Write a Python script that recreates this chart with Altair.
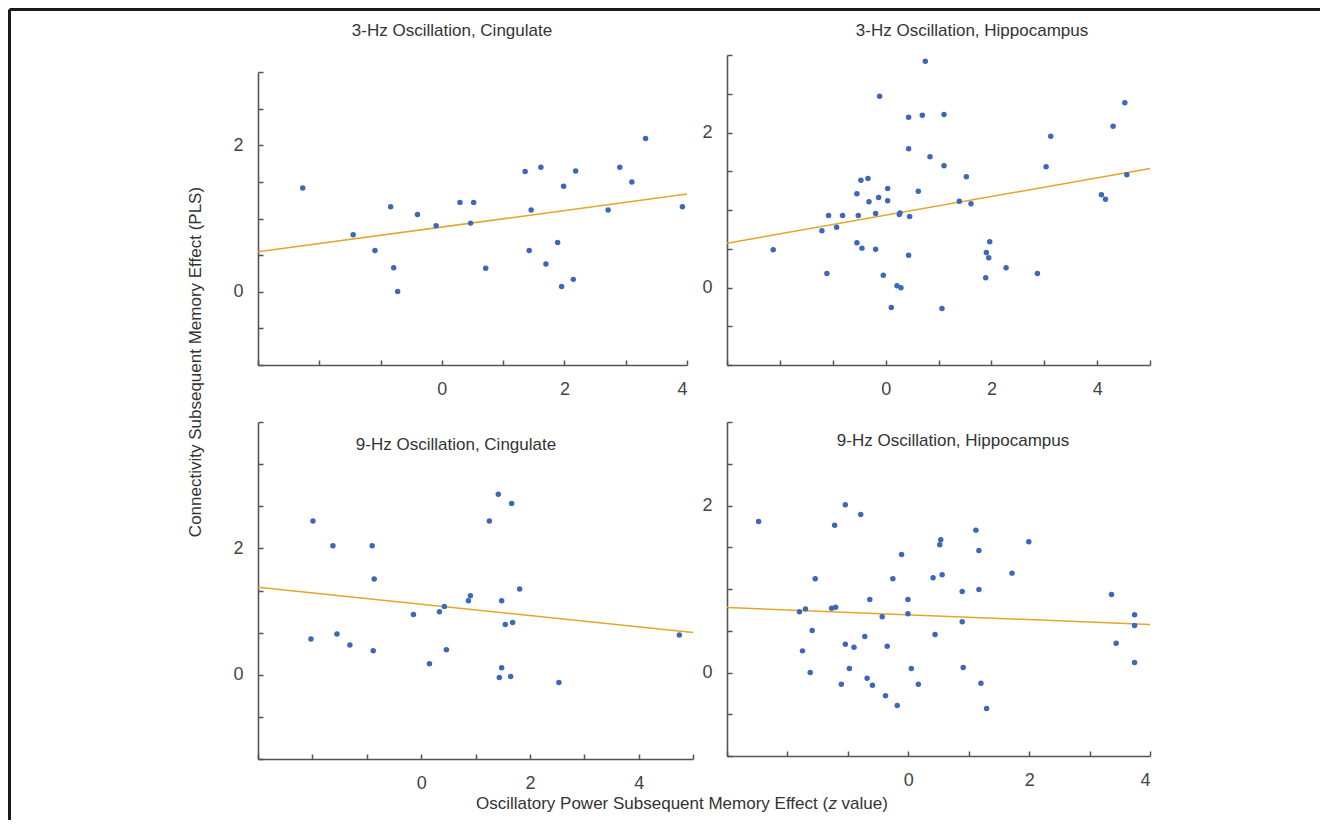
import altair as alt
import pandas as pd

# ---------------- data ----------------
titles = ["3-Hz Oscillation, Cingulate", "3-Hz Oscillation, Hippocampus",
          "9-Hz Oscillation, Cingulate", "9-Hz Oscillation, Hippocampus"]
x_title_main = "Oscillatory Power Subsequent Memory Effect ("
x_title_italic = "z"
x_title_end = "value)"
y_title = "Connectivity Subsequent Memory Effect (PLS)"

# 3-Hz, Cingulate
c3_x = [-2.27, -1.447, -1.092, -0.835, -0.786, -0.721, -0.398, -0.093, 0.295, 0.519,
        0.469, 0.715, 1.359, 1.457, 1.425, 1.616, 1.698, 1.889, 1.954, 1.987,
        2.145, 2.183, 2.713, 2.904, 3.100, 3.324, 3.925]
c3_y = [1.417, 0.777, 0.562, 1.161, 0.329, 0.005, 1.056, 0.900, 1.220, 1.220,
        0.937, 0.320, 1.641, 1.115, 0.562, 1.700, 0.379, 0.672, 0.073, 1.440,
        0.169, 1.650, 1.115, 1.700, 1.499, 2.093, 1.161]
c3_fit_x = [-3, 4]
c3_fit_y = [0.545, 1.334]

# 3-Hz, Hippocampus
h3_x = [-2.126, -1.205, -1.110, -1.079, -0.927, -0.814, -0.543, -0.543, -0.517, -0.467,
        -0.448, -0.334, -0.315, -0.189, -0.189, -0.132, -0.114, -0.044, 0.038, 0.038,
        0.107, 0.215, 0.271, 0.290, 0.259, 0.435, 0.435, 0.454, 0.435, 0.618,
        0.694, 0.751, 0.839, 1.066, 1.104, 1.104, 1.394, 1.527, 1.615, 1.893,
        1.905, 1.950, 1.968, 2.278, 2.871, 3.035, 3.123, 4.082, 4.158, 4.303,
        4.524, 4.562]
h3_y = [0.486, 0.731, 0.181, 0.929, 0.778, 0.929, 1.209, 0.576, 0.929, 1.385,
        0.508, 1.406, 1.105, 0.955, 0.495, 1.161, 2.469, 0.159, 1.277, 1.118,
        -0.258, 0.022, 0.963, -0.004, 0.942, 2.198, 1.789, 0.916, 0.417, 1.243,
        2.224, 2.920, 1.686, -0.271, 2.232, 1.570, 1.114, 1.428, 1.080, 0.125,
        0.452, 0.383, 0.589, 0.254, 0.181, 1.557, 1.953, 1.196, 1.140, 2.082,
        2.383, 1.454]
h3_fit_x = [-3, 5]
h3_fit_y = [0.572, 1.535]

# 9-Hz, Cingulate
c9_x = [-1.989, -1.622, -0.900, -0.863, -2.026, -1.548, -1.310, -0.881, -0.141, 0.153,
        0.337, 0.428, 0.465, 0.869, 0.906, 1.255, 1.420, 1.438, 1.481, 1.481,
        1.548, 1.646, 1.665, 1.683, 1.812, 2.534, 4.749]
c9_y = [2.433, 2.042, 2.042, 1.515, 0.565, 0.644, 0.470, 0.380, 0.955, 0.174,
        0.997, 1.082, 0.396, 1.172, 1.251, 2.433, 2.855, -0.042, 1.172, 0.111,
        0.797, -0.026, 2.712, 0.828, 1.356, -0.121, 0.628]
c9_fit_x = [-3, 5]
c9_fit_y = [1.383, 0.670]

# 9-Hz, Hippocampus
h9_x = [-2.476, -1.801, -1.751, -1.701, -1.623, -1.590, -1.540, -1.269, -1.219, -1.202,
        -1.108, -1.042, -1.042, -0.975, -0.898, -0.787, -0.720, -0.681, -0.637, -0.593,
        -0.432, -0.377, -0.349, -0.255, -0.183, -0.111, -0.006, -0.006, 0.050, 0.166,
        0.410, 0.443, 0.521, 0.537, 0.560, 0.892, 0.892, 0.909, 1.119, 1.169,
        1.169, 1.202, 1.296, 1.717, 1.994, 3.363, 3.440, 3.745, 3.745, 3.745]
h9_y = [1.808, 0.727, 0.259, 0.762, 0.000, 0.503, 1.122, 0.770, 1.764, 0.782,
        -0.140, 2.008, 0.339, 0.048, 0.303, 1.892, 0.431, -0.068, 0.874, -0.152,
        0.667, -0.279, 0.315, 1.122, -0.395, 1.413, 0.874, 0.703, 0.048, -0.140,
        1.134, 0.455, 1.529, 1.589, 1.170, 0.970, 0.607, 0.060, 1.705, 1.461,
        0.994, -0.128, -0.431, 1.190, 1.565, 0.934, 0.351, 0.691, 0.563, 0.120]
h9_fit_x = [-3, 4]
h9_fit_y = [0.778, 0.575]

# axis domains, ticks and labels
xdom_c3, xdom_h3, xdom_c9, xdom_h9 = [-3, 4], [-3, 5], [-3, 5], [-3, 4]
ydom_std = [-1, 3]
ydom_c9 = [-4 / 3, 4]
xticks_c3 = [-3, -2, -1, 0, 1, 2, 3, 4]
xticks_h3 = [-3, -2, -1, 0, 1, 2, 3, 4, 5]
xticks_c9 = [-3, -2, -1, 0, 1, 2, 3, 4, 5]
xticks_h9 = [-3, -2, -1, 0, 1, 2, 3, 4]
yticks_std = [-1, -0.5, 0, 0.5, 1, 1.5, 2, 2.5, 3]
yticks_c9 = [-4 / 3, -2 / 3, 0, 2 / 3, 4 / 3, 2, 8 / 3, 10 / 3, 4]
xlabels = [0, 2, 4]
ylabels = [0, 2]

BLUE = "#3b68b9"
GOLD = "#e2a62d"
FONT = "Liberation Sans"
TXT = "#333333"


def panel(xs, ys, fx, fy, xdom, ydom, xt, yt, W, H, title, tx, ty, yrange=None, extra=()):
    df = pd.DataFrame({"x": xs, "y": ys})
    fdf = pd.DataFrame({"x": fx, "y": fy})
    xsc = alt.Scale(domain=xdom, nice=False, zero=False)
    if yrange is None:
        ysc = alt.Scale(domain=ydom, nice=False, zero=False)
    else:
        ysc = alt.Scale(domain=ydom, nice=False, zero=False, range=yrange)
    fit = alt.Chart(fdf).mark_line(color=GOLD, strokeWidth=1.5).encode(
        x=alt.X("x:Q", scale=xsc, title=None,
                axis=alt.Axis(orient="top", offset=-H, values=xt, labels=False,
                              domain=False, ticks=True, tickSize=5)),
        y=alt.Y("y:Q", scale=ysc, title=None,
                axis=alt.Axis(orient="right", offset=-W, values=yt, labels=False,
                              domain=False, ticks=True, tickSize=5)),
    )
    pts = alt.Chart(df).mark_circle(size=30, color=BLUE, opacity=1).encode(
        x=alt.X("x:Q", scale=xsc, title=None,
                axis=alt.Axis(orient="bottom", values=xlabels, ticks=False, tickSize=0,
                              labelPadding=15, domain=True)),
        y=alt.Y("y:Q", scale=ysc, title=None,
                axis=alt.Axis(orient="left", values=ylabels, ticks=False, tickSize=0,
                              labelPadding=15, domain=True)),
    )
    ttl = alt.Chart(alt.Data(values=[{"t": title}])).mark_text(
        font=FONT, fontSize=17, color=TXT, align="center", baseline="middle"
    ).encode(text="t:N", x=alt.value(tx), y=alt.value(ty))
    layers = [fit, pts, ttl] + list(extra)
    return alt.layer(*layers).resolve_axis(x="independent", y="independent").properties(
        width=W, height=H)


# frame and shared axis titles (annotations)
frame_top = alt.Chart(alt.Data(values=[{"a": 1}])).mark_rule(
    color="#1a1a1a", strokeWidth=3).encode(
    x=alt.value(-248.5), x2=alt.value(1062), y=alt.value(-45.5))
frame_left = alt.Chart(alt.Data(values=[{"a": 1}])).mark_rule(
    color="#1a1a1a", strokeWidth=3).encode(
    x=alt.value(-248.5), y=alt.value(-45.5), y2=alt.value(765))
ytitle = alt.Chart(alt.Data(values=[{"t": y_title}])).mark_text(
    font=FONT, fontSize=17, color=TXT, angle=270, align="center", baseline="middle"
).encode(text="t:N", x=alt.value(-62), y=alt.value(307))

xt_a = alt.Chart(alt.Data(values=[{"t": x_title_main}])).mark_text(
    font=FONT, fontSize=17, color=TXT, align="left", baseline="middle"
).encode(text="t:N", x=alt.value(218), y=alt.value(382))
xt_b = alt.Chart(alt.Data(values=[{"t": x_title_italic}])).mark_text(
    font=FONT, fontSize=17, color=TXT, align="left", baseline="middle", fontStyle="italic"
).encode(text="t:N", x=alt.value(218 + 352.4), y=alt.value(382))
xt_c = alt.Chart(alt.Data(values=[{"t": x_title_end}])).mark_text(
    font=FONT, fontSize=17, color=TXT, align="left", baseline="middle"
).encode(text="t:N", x=alt.value(218 + 365.6), y=alt.value(382))

p1 = panel(c3_x, c3_y, c3_fit_x, c3_fit_y, xdom_c3, ydom_std, xticks_c3, yticks_std,
           429, 310, titles[0], 194, -24, yrange=[310, 17],
           extra=[frame_top, frame_left, ytitle])
p2 = panel(h3_x, h3_y, h3_fit_x, h3_fit_y, xdom_h3, ydom_std, xticks_h3, yticks_std,
           423, 310, titles[1], 245, -24)
p3 = panel(c9_x, c9_y, c9_fit_x, c9_fit_y, xdom_c9, ydom_c9, xticks_c9, yticks_c9,
           435, 337, titles[2], 198, 23, extra=[xt_a, xt_b, xt_c])
p4 = panel(h9_x, h9_y, h9_fit_x, h9_fit_y, xdom_h9, ydom_std, xticks_h9, yticks_std,
           423, 334, titles[3], 226, 19)

chart = alt.concat(p1, p2, p3, p4, columns=2, spacing={"row": 57, "column": 34},
                   bounds="flush").properties(padding=0).configure_axis(
    grid=False, domainColor="#555555", domainWidth=1.6, tickColor="#555555",
    tickWidth=1.5, labelFont=FONT, labelFontSize=18, labelColor="#444444",
).configure_view(stroke=None)

chart.save("out.html", embed_options={"renderer": "svg", "actions": False})
